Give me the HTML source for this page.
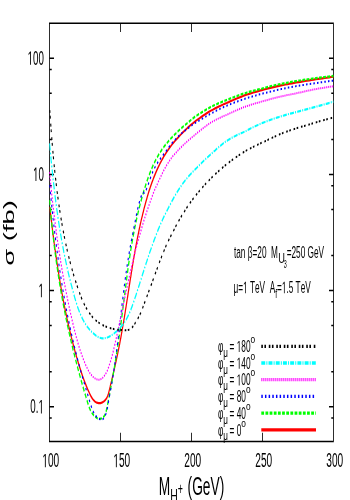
<!DOCTYPE html>
<html><head><meta charset="utf-8"><title>plot</title>
<style>html,body{margin:0;padding:0;background:#fff}svg{display:block;will-change:transform}text{font-family:"Liberation Sans",sans-serif;fill:#000;font-kerning:none}</style></head>
<body>
<svg width="350" height="500" viewBox="0 0 350 500">
<rect x="0" y="0" width="350" height="500" fill="#fff"/>
<g transform="scale(0.547,1)" fill="none">
<rect x="90.49" y="23.25" width="519.20" height="418.25" stroke="#000" stroke-width="1.5"/>
<path d="M220.29 23.25 v8.8 M220.29 441.50 v-8.8 M350.09 23.25 v8.8 M350.09 441.50 v-8.8 M479.89 23.25 v8.8 M479.89 441.50 v-8.8 M90.49 58.20 h8.2 M609.69 58.20 h-8.2 M90.49 174.40 h8.2 M609.69 174.40 h-8.2 M90.49 290.60 h8.2 M609.69 290.60 h-8.2 M90.49 406.80 h8.2 M609.69 406.80 h-8.2 M90.49 69.46 h4.1 M609.69 69.46 h-4.1 M90.49 93.18 h4.1 M609.69 93.18 h-4.1 M90.49 139.42 h4.1 M609.69 139.42 h-4.1 M90.49 185.66 h4.1 M609.69 185.66 h-4.1 M90.49 209.38 h4.1 M609.69 209.38 h-4.1 M90.49 255.62 h4.1 M609.69 255.62 h-4.1 M90.49 301.86 h4.1 M609.69 301.86 h-4.1 M90.49 325.58 h4.1 M609.69 325.58 h-4.1 M90.49 371.82 h4.1 M609.69 371.82 h-4.1 M90.49 418.06 h4.1 M609.69 418.06 h-4.1" stroke="#000" stroke-width="1.5"/>
<clipPath id="cp"><rect x="89.9452" y="23.25" width="520.293" height="418.25"/></clipPath>
<g clip-path="url(#cp)" stroke-linejoin="round">
<path d="M91.0 207.0 L91.4 209.2 L91.9 211.4 L92.4 213.5 L92.8 215.7 L93.3 217.9 L93.8 220.1 L94.3 222.2 L94.7 224.4 L95.2 226.6 L95.7 228.8 L96.2 231.0 L96.7 233.2 L97.2 235.4 L97.8 237.5 L98.3 239.7 L98.8 241.9 L99.3 244.1 L99.9 246.3 L100.4 248.5 L101.0 250.7 L101.6 252.9 L102.1 255.1 L102.7 257.3 L103.3 259.4 L103.9 261.6 L104.5 263.8 L105.1 266.0 L105.7 268.2 L106.3 270.4 L106.9 272.6 L107.6 274.8 L108.2 277.0 L108.9 279.2 L109.6 281.3 L110.2 283.5 L110.9 285.7 L111.6 287.9 L112.3 290.1 L113.0 292.3 L113.8 294.4 L114.5 296.6 L115.2 298.8 L116.0 301.0 L116.8 303.1 L117.5 305.3 L118.3 307.5 L119.1 309.6 L119.9 311.8 L120.8 314.0 L121.6 316.1 L122.4 318.3 L123.3 320.5 L124.2 322.6 L125.1 324.8 L126.0 326.9 L126.9 329.1 L127.8 331.2 L128.7 333.3 L129.7 335.5 L130.6 337.6 L131.6 339.7 L132.6 341.9 L133.6 344.0 L134.6 346.1 L135.7 348.2 L136.7 350.4 L137.8 352.5 L138.9 354.6 L139.9 356.7 L141.1 358.8 L142.2 360.9 L143.3 363.0 L144.5 365.1 L145.6 367.1 L146.8 369.2 L148.1 371.3 L149.3 373.4 L150.6 375.5 L151.9 377.6 L153.3 379.7 L154.8 381.8 L156.3 383.9 L157.8 386.0 L159.4 388.1 L161.1 390.3 L162.9 392.4 L164.7 394.6 L166.7 396.7 L168.9 398.6 L171.3 400.3 L174.0 401.7 L177.0 402.7 L180.3 403.2 L183.8 403.1 L187.1 402.4 L190.3 401.3 L193.0 399.7 L195.3 397.9 L196.9 395.9 L198.2 393.8 L199.2 391.6 L200.2 389.4 L201.2 387.2 L202.1 385.0 L203.1 382.8 L204.1 380.6 L205.0 378.4 L206.0 376.2 L206.9 374.1 L207.8 371.9 L208.7 369.7 L209.6 367.6 L210.5 365.4 L211.4 363.2 L212.3 361.1 L213.1 358.9 L214.0 356.7 L214.8 354.6 L215.6 352.4 L216.4 350.3 L217.2 348.1 L218.0 345.9 L218.8 343.8 L219.5 341.6 L220.3 339.4 L221.0 337.3 L221.7 335.1 L222.4 332.9 L223.1 330.8 L223.8 328.6 L224.5 326.4 L225.2 324.3 L225.9 322.1 L226.5 319.9 L227.2 317.8 L227.8 315.6 L228.5 313.4 L229.1 311.3 L229.7 309.1 L230.4 306.9 L231.0 304.8 L231.6 302.6 L232.2 300.4 L232.9 298.3 L233.5 296.1 L234.1 293.9 L234.7 291.8 L235.3 289.6 L235.9 287.4 L236.6 285.2 L237.2 283.1 L237.8 280.9 L238.4 278.7 L239.1 276.6 L239.7 274.4 L240.3 272.2 L241.0 270.1 L241.6 267.9 L242.3 265.7 L242.9 263.5 L243.6 261.4 L244.3 259.2 L244.9 257.0 L245.6 254.9 L246.3 252.7 L247.0 250.5 L247.8 248.4 L248.5 246.2 L249.2 244.0 L250.0 241.9 L250.7 239.7 L251.5 237.5 L252.3 235.4 L253.1 233.2 L253.9 231.0 L254.7 228.8 L255.6 226.7 L256.4 224.5 L257.3 222.4 L258.2 220.2 L259.1 218.1 L260.1 216.0 L261.0 213.8 L262.0 211.7 L262.9 209.6 L263.9 207.4 L265.0 205.3 L266.0 203.2 L267.1 201.0 L268.2 198.9 L269.3 196.8 L270.4 194.7 L271.6 192.5 L272.8 190.4 L274.1 188.3 L275.3 186.3 L276.7 184.2 L278.0 182.1 L279.4 180.1 L280.8 178.0 L282.3 176.0 L283.8 174.0 L285.3 172.0 L286.9 170.0 L288.6 168.0 L290.3 166.1 L292.0 164.1 L293.8 162.2 L295.7 160.3 L297.6 158.4 L299.5 156.5 L301.6 154.7 L303.6 152.9 L305.8 151.1 L308.0 149.3 L310.3 147.6 L312.6 145.8 L315.0 144.2 L317.5 142.5 L320.0 140.9 L322.6 139.3 L325.3 137.7 L328.0 136.0 L330.8 134.4 L333.6 132.8 L336.5 131.2 L339.4 129.7 L342.4 128.1 L345.5 126.6 L348.6 125.1 L351.7 123.7 L354.9 122.2 L358.1 120.8 L361.4 119.5 L364.7 118.2 L368.1 116.9 L371.4 115.6 L374.9 114.4 L378.3 113.1 L381.8 111.9 L385.3 110.7 L388.9 109.7 L392.4 108.6 L396.0 107.6 L399.6 106.6 L403.3 105.7 L406.9 104.8 L410.6 103.8 L414.3 103.0 L418.0 102.1 L421.7 101.1 L425.5 100.2 L429.2 99.3 L432.9 98.5 L436.7 97.6 L440.5 96.8 L444.3 96.0 L448.1 95.2 L451.9 94.5 L455.7 93.8 L459.5 93.2 L463.3 92.5 L467.2 91.9 L471.0 91.3 L474.9 90.7 L478.8 90.1 L482.7 89.5 L486.5 89.0 L490.4 88.4 L494.3 87.9 L498.3 87.4 L502.2 86.9 L506.1 86.4 L510.0 85.9 L514.0 85.4 L517.9 85.0 L521.9 84.5 L525.8 84.1 L529.8 83.7 L533.7 83.3 L537.7 82.9 L541.7 82.5 L545.7 82.1 L549.6 81.8 L553.6 81.4 L557.6 81.0 L561.6 80.6 L565.6 80.3 L569.6 79.9 L573.6 79.6 L577.6 79.2 L581.6 78.9 L585.6 78.6 L589.7 78.3 L593.7 78.0 L597.7 77.7 L601.7 77.3 L605.7 77.0 L609.7 76.7" stroke="#f00" stroke-width="2.2"/>
<path d="M90.6 200.0 L91.0 202.3 L91.3 204.7 L91.7 207.0 L92.1 209.3 L92.5 211.7 L92.9 214.0 L93.3 216.4 L93.7 218.7 L94.1 221.0 L94.6 223.4 L95.0 225.7 L95.5 228.0 L95.9 230.4 L96.4 232.7 L96.9 235.0 L97.4 237.4 L97.9 239.7 L98.4 242.0 L98.9 244.4 L99.4 246.7 L99.9 249.0 L100.5 251.3 L101.0 253.7 L101.6 256.0 L102.2 258.3 L102.7 260.6 L103.3 263.0 L103.9 265.3 L104.6 267.6 L105.2 269.9 L105.8 272.3 L106.4 274.6 L107.1 276.9 L107.8 279.2 L108.4 281.5 L109.1 283.8 L109.8 286.2 L110.5 288.5 L111.3 290.8 L112.0 293.1 L112.7 295.4 L113.5 297.7 L114.2 300.0 L115.0 302.3 L115.8 304.6 L116.6 307.0 L117.4 309.3 L118.3 311.6 L119.1 313.9 L119.9 316.2 L120.8 318.5 L121.7 320.8 L122.6 323.1 L123.4 325.4 L124.4 327.7 L125.3 330.0 L126.2 332.3 L127.1 334.6 L128.1 336.9 L129.1 339.1 L130.0 341.4 L131.0 343.7 L132.0 346.0 L133.0 348.3 L134.0 350.6 L135.0 352.8 L136.1 355.1 L137.1 357.4 L138.2 359.7 L139.3 361.9 L140.3 364.2 L141.4 366.5 L142.5 368.7 L143.6 371.0 L144.7 373.2 L145.9 375.5 L147.0 377.7 L148.1 380.0 L149.3 382.2 L150.5 384.5 L151.6 386.7 L152.8 388.9 L154.0 391.2 L155.2 393.5 L156.5 395.7 L157.7 398.0 L159.0 400.3 L160.2 402.6 L161.6 404.9 L163.0 407.2 L164.6 409.4 L166.5 411.5 L168.8 413.5 L171.5 415.4 L174.7 417.0 L178.3 418.3 L182.2 418.8 L186.0 418.3 L189.0 417.1 L191.2 415.5 L192.9 413.5 L194.1 411.3 L195.0 409.0 L195.9 406.6 L196.7 404.3 L197.6 401.9 L198.4 399.5 L199.3 397.2 L200.1 394.8 L200.9 392.5 L201.7 390.1 L202.5 387.8 L203.3 385.4 L204.1 383.1 L204.9 380.8 L205.6 378.4 L206.4 376.1 L207.1 373.8 L207.8 371.5 L208.6 369.1 L209.3 366.8 L210.0 364.5 L210.7 362.2 L211.3 359.8 L212.0 357.5 L212.7 355.2 L213.4 352.9 L214.0 350.6 L214.7 348.3 L215.3 346.0 L215.9 343.7 L216.6 341.3 L217.2 339.0 L217.8 336.7 L218.4 334.4 L219.0 332.1 L219.6 329.8 L220.1 327.5 L220.7 325.2 L221.3 322.9 L221.8 320.5 L222.4 318.2 L223.0 315.9 L223.5 313.6 L224.0 311.3 L224.6 309.0 L225.1 306.6 L225.6 304.3 L226.2 302.0 L226.7 299.7 L227.2 297.4 L227.8 295.0 L228.3 292.7 L228.8 290.4 L229.4 288.1 L229.9 285.8 L230.5 283.5 L231.0 281.1 L231.6 278.8 L232.1 276.5 L232.7 274.2 L233.3 271.9 L233.8 269.5 L234.4 267.2 L235.0 264.9 L235.6 262.6 L236.3 260.3 L236.9 257.9 L237.5 255.6 L238.2 253.3 L238.8 251.0 L239.5 248.7 L240.2 246.4 L240.9 244.1 L241.6 241.8 L242.4 239.4 L243.1 237.1 L243.9 234.8 L244.7 232.5 L245.5 230.2 L246.4 227.9 L247.2 225.6 L248.1 223.3 L249.0 221.0 L249.9 218.7 L250.8 216.4 L251.8 214.1 L252.8 211.8 L253.8 209.5 L254.8 207.2 L255.9 204.9 L256.9 202.6 L258.1 200.4 L259.2 198.1 L260.4 195.8 L261.6 193.5 L262.8 191.2 L264.1 189.0 L265.4 186.7 L266.7 184.4 L268.1 182.2 L269.5 179.9 L270.9 177.7 L272.4 175.5 L273.9 173.2 L275.5 171.0 L277.2 168.9 L278.8 166.7 L280.6 164.5 L282.4 162.5 L284.2 160.5 L286.1 158.5 L288.1 156.6 L290.1 154.7 L292.2 152.9 L294.4 151.0 L296.6 149.2 L298.9 147.5 L301.2 145.7 L303.7 144.0 L306.2 142.4 L308.8 140.7 L311.4 139.0 L314.2 137.4 L317.0 135.9 L319.9 134.3 L322.9 132.8 L325.9 131.1 L329.0 129.5 L332.2 127.9 L335.5 126.3 L338.8 124.8 L342.2 123.2 L345.6 121.6 L349.1 120.0 L352.6 118.4 L356.2 116.9 L359.8 115.5 L363.5 114.2 L367.2 112.9 L371.0 111.6 L374.7 110.3 L378.6 109.1 L382.4 107.9 L386.3 106.7 L390.1 105.7 L394.1 104.7 L398.0 103.7 L401.9 102.8 L405.9 101.9 L409.8 101.0 L413.8 100.1 L417.8 99.2 L421.8 98.3 L425.8 97.5 L429.8 96.6 L433.8 95.8 L437.9 95.0 L441.9 94.2 L446.0 93.5 L450.1 92.8 L454.1 92.1 L458.2 91.5 L462.3 90.9 L466.4 90.3 L470.5 89.7 L474.7 89.1 L478.8 88.6 L482.9 88.0 L487.1 87.4 L491.2 86.8 L495.4 86.2 L499.6 85.7 L503.7 85.1 L507.9 84.6 L512.1 84.1 L516.3 83.6 L520.5 83.2 L524.7 82.8 L528.9 82.3 L533.1 81.9 L537.4 81.5 L541.6 81.1 L545.8 80.7 L550.1 80.4 L554.3 80.0 L558.6 79.6 L562.8 79.3 L567.1 78.9 L571.3 78.6 L575.6 78.3 L579.8 78.0 L584.1 77.7 L588.4 77.4 L592.7 77.1 L596.9 76.8 L601.2 76.6 L605.5 76.3 L609.8 76.0" stroke="#0f0" stroke-width="2.3" stroke-dasharray="5.1 2.5"/>
<path d="M90.9 185.0 L91.3 187.4 L91.7 189.8 L92.1 192.1 L92.5 194.5 L92.9 196.9 L93.4 199.3 L93.8 201.7 L94.3 204.1 L94.7 206.4 L95.2 208.8 L95.6 211.2 L96.1 213.6 L96.6 216.0 L97.0 218.4 L97.5 220.7 L98.0 223.1 L98.5 225.5 L99.0 227.9 L99.5 230.3 L100.1 232.7 L100.6 235.1 L101.1 237.4 L101.7 239.8 L102.2 242.2 L102.8 244.6 L103.3 247.0 L103.9 249.4 L104.5 251.7 L105.1 254.1 L105.6 256.5 L106.3 258.9 L106.9 261.3 L107.5 263.6 L108.1 266.0 L108.8 268.4 L109.4 270.8 L110.1 273.1 L110.7 275.5 L111.4 277.9 L112.1 280.3 L112.8 282.6 L113.5 285.0 L114.2 287.4 L114.9 289.7 L115.7 292.1 L116.4 294.5 L117.2 296.8 L117.9 299.2 L118.7 301.6 L119.5 303.9 L120.3 306.3 L121.1 308.6 L122.0 311.0 L122.8 313.4 L123.6 315.7 L124.5 318.1 L125.4 320.4 L126.3 322.8 L127.2 325.1 L128.1 327.4 L129.0 329.8 L129.9 332.1 L130.9 334.5 L131.8 336.8 L132.8 339.1 L133.8 341.5 L134.8 343.8 L135.8 346.1 L136.9 348.5 L137.9 350.8 L139.0 353.1 L140.0 355.4 L141.1 357.7 L142.2 360.1 L143.3 362.4 L144.5 364.7 L145.6 367.0 L146.8 369.3 L147.9 371.6 L149.1 373.9 L150.3 376.2 L151.6 378.5 L152.8 380.8 L154.0 383.1 L155.3 385.4 L156.5 387.7 L157.8 390.0 L159.1 392.4 L160.4 394.7 L161.6 397.0 L162.9 399.4 L164.2 401.7 L165.5 404.1 L166.9 406.4 L168.3 408.7 L170.0 411.0 L171.9 413.1 L174.1 415.1 L176.8 416.9 L180.0 418.4 L183.5 419.5 L186.9 419.5 L189.8 418.3 L192.1 416.0 L193.9 413.5 L195.2 410.9 L196.2 408.5 L197.0 406.1 L197.7 403.8 L198.4 401.4 L199.2 399.1 L200.0 396.7 L200.7 394.4 L201.5 392.0 L202.3 389.7 L203.1 387.3 L203.8 385.0 L204.6 382.6 L205.3 380.3 L206.0 377.9 L206.7 375.5 L207.4 373.2 L208.1 370.8 L208.7 368.4 L209.4 366.0 L210.0 363.6 L210.6 361.3 L211.2 358.9 L211.8 356.5 L212.4 354.1 L212.9 351.7 L213.5 349.4 L214.0 347.0 L214.6 344.6 L215.1 342.2 L215.6 339.8 L216.2 337.4 L216.7 335.1 L217.2 332.7 L217.7 330.3 L218.2 327.9 L218.7 325.5 L219.2 323.2 L219.7 320.8 L220.2 318.4 L220.7 316.0 L221.2 313.6 L221.7 311.3 L222.2 308.9 L222.7 306.5 L223.2 304.1 L223.8 301.7 L224.3 299.4 L224.8 297.0 L225.3 294.6 L225.9 292.2 L226.4 289.8 L226.9 287.5 L227.5 285.1 L228.1 282.7 L228.6 280.3 L229.2 278.0 L229.8 275.6 L230.4 273.2 L231.1 270.8 L231.7 268.4 L232.3 266.1 L233.0 263.7 L233.7 261.3 L234.4 258.9 L235.1 256.6 L235.8 254.2 L236.5 251.8 L237.3 249.4 L238.0 247.1 L238.8 244.7 L239.6 242.3 L240.5 239.9 L241.3 237.6 L242.2 235.2 L243.0 232.9 L243.9 230.5 L244.7 228.2 L245.5 225.9 L246.3 223.7 L247.1 221.5 L247.9 219.2 L248.7 217.0 L249.5 214.6 L250.5 212.2 L251.5 209.6 L252.6 206.9 L253.9 204.0 L255.3 201.1 L256.7 198.4 L258.2 196.1 L259.6 194.2 L260.8 192.9 L262.0 192.5 L262.9 192.8 L263.9 193.0 L265.1 192.3 L266.5 191.0 L267.9 189.0 L269.5 186.7 L271.2 184.1 L272.8 181.4 L274.5 178.7 L276.2 176.1 L277.9 173.7 L279.6 171.5 L281.3 169.4 L283.2 167.4 L285.1 165.4 L287.3 163.5 L289.6 161.5 L292.0 159.6 L294.6 157.7 L297.2 155.8 L299.8 153.9 L302.5 152.0 L305.1 150.0 L307.7 148.0 L310.3 146.0 L313.0 144.2 L315.6 142.4 L318.4 140.7 L321.2 139.1 L324.1 137.5 L327.1 135.8 L330.3 134.2 L333.6 132.6 L337.1 131.1 L340.6 129.7 L344.3 128.0 L348.1 126.4 L351.9 124.8 L355.7 123.3 L359.5 122.1 L363.4 120.8 L367.2 119.5 L371.0 118.3 L374.9 117.0 L378.7 115.8 L382.6 114.5 L386.4 113.3 L390.3 112.2 L394.2 111.0 L398.1 110.0 L402.0 108.9 L406.0 107.9 L409.9 106.8 L413.9 105.9 L417.9 104.9 L421.9 104.0 L426.0 103.1 L430.1 102.2 L434.1 101.4 L438.2 100.6 L442.4 99.8 L446.5 99.0 L450.6 98.3 L454.8 97.5 L459.0 96.8 L463.2 96.1 L467.4 95.5 L471.6 94.8 L475.8 94.2 L480.1 93.6 L484.3 93.0 L488.6 92.4 L492.8 91.8 L497.1 91.2 L501.4 90.7 L505.7 90.1 L510.0 89.6 L514.3 89.1 L518.6 88.6 L522.9 88.1 L527.3 87.6 L531.6 87.2 L535.9 86.7 L540.3 86.3 L544.6 85.8 L548.9 85.4 L553.3 85.1 L557.6 84.7 L562.0 84.3 L566.3 84.0 L570.7 83.6 L575.0 83.3 L579.3 83.0 L583.7 82.6 L588.0 82.2 L592.3 81.9 L596.7 81.6 L601.0 81.2 L605.3 80.9 L609.6 80.6" stroke="#00f" stroke-width="2" stroke-dasharray="2.7 4"/>
<path d="M90.5 172.0 L90.9 174.1 L91.3 176.3 L91.7 178.4 L92.0 180.5 L92.4 182.6 L92.8 184.7 L93.2 186.9 L93.6 189.0 L94.0 191.1 L94.4 193.2 L94.8 195.4 L95.3 197.5 L95.7 199.6 L96.1 201.7 L96.6 203.9 L97.0 206.0 L97.5 208.1 L97.9 210.2 L98.4 212.3 L98.9 214.5 L99.3 216.6 L99.8 218.7 L100.3 220.8 L100.8 223.0 L101.3 225.1 L101.8 227.2 L102.3 229.3 L102.8 231.5 L103.3 233.6 L103.9 235.7 L104.4 237.8 L105.0 239.9 L105.5 242.1 L106.1 244.2 L106.6 246.3 L107.2 248.4 L107.8 250.5 L108.4 252.6 L109.0 254.8 L109.6 256.9 L110.2 259.0 L110.8 261.1 L111.5 263.2 L112.1 265.3 L112.7 267.4 L113.4 269.5 L114.1 271.7 L114.7 273.8 L115.4 275.9 L116.1 278.0 L116.8 280.1 L117.5 282.2 L118.2 284.3 L118.9 286.4 L119.6 288.5 L120.4 290.6 L121.1 292.7 L121.9 294.8 L122.7 296.9 L123.4 299.0 L124.2 301.1 L125.0 303.1 L125.8 305.2 L126.6 307.3 L127.4 309.4 L128.3 311.5 L129.1 313.6 L130.0 315.7 L130.8 317.7 L131.7 319.8 L132.6 321.9 L133.5 324.0 L134.4 326.0 L135.3 328.1 L136.2 330.2 L137.2 332.2 L138.1 334.3 L139.1 336.4 L140.1 338.4 L141.2 340.5 L142.2 342.5 L143.3 344.6 L144.4 346.6 L145.6 348.7 L146.8 350.7 L148.1 352.7 L149.4 354.8 L150.7 356.8 L152.1 358.8 L153.6 360.8 L155.1 362.8 L156.6 364.8 L158.3 366.9 L160.0 368.8 L161.8 370.8 L163.9 372.7 L166.1 374.4 L168.7 376.1 L171.6 377.6 L174.7 378.8 L177.9 379.5 L181.1 379.7 L184.2 379.2 L187.1 378.2 L189.7 376.7 L192.0 374.9 L194.0 373.1 L195.8 371.1 L197.3 369.0 L198.7 367.0 L200.0 364.8 L201.3 362.8 L202.4 360.7 L203.5 358.6 L204.6 356.5 L205.6 354.4 L206.6 352.3 L207.5 350.2 L208.4 348.2 L209.3 346.1 L210.2 344.0 L211.0 341.9 L211.9 339.9 L212.7 337.8 L213.5 335.7 L214.4 333.6 L215.2 331.5 L216.0 329.5 L216.8 327.4 L217.6 325.3 L218.4 323.2 L219.2 321.1 L220.0 319.1 L220.8 317.0 L221.6 314.9 L222.4 312.8 L223.2 310.7 L224.0 308.6 L224.8 306.6 L225.6 304.5 L226.4 302.4 L227.2 300.3 L228.0 298.2 L228.8 296.2 L229.6 294.1 L230.4 292.0 L231.2 289.9 L232.0 287.8 L232.8 285.8 L233.6 283.7 L234.4 281.6 L235.3 279.5 L236.1 277.5 L236.9 275.4 L237.8 273.3 L238.6 271.3 L239.5 269.2 L240.4 267.1 L241.2 265.1 L242.1 263.0 L243.0 260.9 L243.9 258.9 L244.8 256.8 L245.8 254.8 L246.7 252.7 L247.6 250.7 L248.6 248.6 L249.6 246.6 L250.6 244.5 L251.6 242.5 L252.6 240.5 L253.6 238.4 L254.6 236.4 L255.7 234.4 L256.8 232.3 L257.9 230.2 L259.0 228.1 L260.1 226.0 L261.2 224.0 L262.4 221.9 L263.5 219.8 L264.7 217.8 L265.9 215.7 L267.2 213.6 L268.4 211.6 L269.7 209.5 L271.0 207.4 L272.3 205.3 L273.6 203.3 L274.9 201.2 L276.3 199.1 L277.7 197.1 L279.1 195.0 L280.5 192.9 L282.0 190.9 L283.4 189.1 L284.9 187.2 L286.4 185.4 L288.0 183.6 L289.5 181.7 L291.1 179.9 L292.7 178.1 L294.3 176.1 L296.0 174.2 L297.7 172.3 L299.4 170.5 L301.2 168.6 L303.0 166.8 L304.9 165.0 L306.9 163.3 L308.8 161.6 L310.9 159.9 L313.0 158.3 L315.2 156.7 L317.5 155.2 L319.8 153.8 L322.3 152.3 L324.7 150.8 L327.2 149.4 L329.8 147.9 L332.4 146.5 L335.1 145.1 L337.8 143.7 L340.5 142.3 L343.3 140.9 L346.2 139.5 L349.1 138.2 L352.0 136.8 L355.0 135.5 L358.0 134.1 L361.1 132.7 L364.2 131.3 L367.3 129.9 L370.4 128.6 L373.6 127.2 L376.9 125.9 L380.1 124.6 L383.4 123.3 L386.7 122.1 L390.0 121.2 L393.4 120.2 L396.8 119.2 L400.2 118.3 L403.6 117.4 L407.1 116.5 L410.5 115.7 L414.0 114.9 L417.5 114.0 L421.1 113.1 L424.6 112.2 L428.2 111.3 L431.7 110.4 L435.3 109.6 L438.9 108.7 L442.6 107.9 L446.2 107.1 L449.9 106.4 L453.5 105.7 L457.2 105.1 L460.9 104.4 L464.6 103.8 L468.3 103.2 L472.1 102.6 L475.8 102.0 L479.5 101.4 L483.3 100.8 L487.1 100.2 L490.9 99.7 L494.6 99.1 L498.4 98.5 L502.2 98.0 L506.0 97.5 L509.9 97.0 L513.7 96.5 L517.5 96.0 L521.3 95.6 L525.2 95.1 L529.0 94.7 L532.8 94.3 L536.7 93.9 L540.5 93.5 L544.4 93.0 L548.2 92.5 L552.1 92.1 L555.9 91.6 L559.8 91.1 L563.6 90.6 L567.5 90.2 L571.3 89.7 L575.2 89.3 L579.0 88.9 L582.8 88.5 L586.7 88.2 L590.5 87.9 L594.3 87.5 L598.1 87.2 L602.0 86.8 L605.8 86.5 L609.6 86.2" stroke="#f0f" stroke-width="2" stroke-dasharray="1.95 1.706"/>
<path d="M90.6 143.4 L90.9 145.3 L91.2 147.2 L91.5 149.1 L91.9 151.0 L92.2 152.9 L92.5 154.8 L92.9 156.7 L93.2 158.5 L93.5 160.4 L93.9 162.3 L94.2 164.2 L94.6 166.1 L94.9 168.0 L95.3 169.8 L95.7 171.7 L96.0 173.6 L96.4 175.5 L96.8 177.3 L97.1 179.2 L97.5 181.1 L97.9 183.0 L98.3 184.8 L98.7 186.7 L99.1 188.6 L99.5 190.4 L99.9 192.3 L100.3 194.2 L100.7 196.0 L101.1 197.9 L101.6 199.8 L102.0 201.6 L102.5 203.5 L102.9 205.4 L103.4 207.2 L103.8 209.1 L104.3 210.9 L104.8 212.8 L105.3 214.6 L105.7 216.5 L106.2 218.4 L106.7 220.2 L107.3 222.1 L107.8 223.9 L108.3 225.8 L108.8 227.6 L109.4 229.5 L109.9 231.3 L110.5 233.2 L111.1 235.0 L111.7 236.9 L112.2 238.7 L112.8 240.6 L113.4 242.4 L114.1 244.3 L114.7 246.1 L115.3 248.0 L116.0 249.8 L116.6 251.6 L117.3 253.5 L118.0 255.3 L118.7 257.2 L119.3 259.0 L120.1 260.9 L120.8 262.7 L121.5 264.5 L122.2 266.4 L123.0 268.2 L123.8 270.1 L124.5 271.9 L125.3 273.7 L126.1 275.6 L126.9 277.4 L127.8 279.3 L128.6 281.1 L129.4 282.9 L130.3 284.8 L131.2 286.6 L132.1 288.5 L133.0 290.3 L133.9 292.1 L134.8 294.0 L135.7 295.8 L136.7 297.7 L137.7 299.5 L138.7 301.3 L139.7 303.1 L140.7 305.0 L141.8 306.8 L143.0 308.6 L144.2 310.3 L145.4 312.1 L146.7 313.8 L148.1 315.6 L149.5 317.2 L151.0 318.9 L152.5 320.5 L154.2 322.2 L155.9 323.7 L157.8 325.3 L159.7 326.8 L161.7 328.2 L163.9 329.6 L166.1 331.0 L168.5 332.3 L171.0 333.6 L173.6 334.8 L176.3 336.0 L179.2 336.9 L182.1 337.7 L185.2 338.2 L188.4 338.4 L191.6 338.2 L194.9 337.8 L198.2 337.0 L201.4 336.1 L204.6 335.0 L207.6 333.8 L210.5 332.5 L213.3 331.2 L215.9 329.9 L218.4 328.5 L220.7 327.1 L222.9 325.7 L225.0 324.3 L226.9 322.7 L228.8 321.2 L230.6 319.6 L232.2 318.0 L233.8 316.3 L235.3 314.7 L236.7 313.0 L238.0 311.2 L239.3 309.5 L240.6 307.7 L241.8 306.0 L242.9 304.2 L244.1 302.4 L245.2 300.6 L246.3 298.8 L247.4 297.0 L248.5 295.3 L249.5 293.5 L250.6 291.7 L251.6 289.9 L252.7 288.2 L253.7 286.4 L254.8 284.6 L255.8 282.8 L256.8 281.0 L257.9 279.3 L258.9 277.5 L259.9 275.7 L260.9 273.9 L262.0 272.2 L263.0 270.4 L264.0 268.6 L265.1 266.8 L266.1 265.0 L267.2 263.2 L268.3 261.5 L269.3 259.7 L270.4 257.9 L271.5 256.1 L272.6 254.3 L273.7 252.5 L274.9 250.7 L276.0 249.0 L277.1 247.2 L278.3 245.4 L279.4 243.6 L280.6 241.9 L281.8 240.1 L283.0 238.3 L284.3 236.6 L285.5 234.8 L286.7 233.0 L288.0 231.3 L289.3 229.5 L290.6 227.8 L291.9 226.1 L293.3 224.4 L294.6 222.7 L296.0 221.1 L297.4 219.4 L298.8 217.8 L300.3 216.1 L301.7 214.5 L303.2 212.9 L304.7 211.3 L306.2 209.7 L307.8 208.0 L309.4 206.3 L311.0 204.7 L312.6 203.0 L314.2 201.3 L315.9 199.6 L317.6 197.9 L319.3 196.3 L321.1 194.6 L322.9 193.0 L324.7 191.3 L326.6 189.7 L328.5 188.1 L330.4 186.5 L332.4 185.0 L334.4 183.4 L336.5 181.9 L338.6 180.4 L340.8 178.9 L343.0 177.4 L345.3 176.0 L347.6 174.6 L350.0 173.2 L352.5 171.8 L355.0 170.4 L357.5 169.0 L360.1 167.6 L362.6 166.2 L365.2 164.8 L367.7 163.4 L370.3 162.0 L372.8 160.6 L375.4 159.2 L377.9 157.9 L380.5 156.7 L383.0 155.4 L385.6 154.1 L388.1 152.9 L390.7 151.6 L393.3 150.4 L395.8 149.1 L398.4 147.9 L401.0 146.7 L403.7 145.4 L406.3 144.3 L409.0 143.1 L411.6 141.9 L414.3 141.0 L417.1 140.0 L419.8 139.1 L422.6 138.2 L425.4 137.3 L428.3 136.5 L431.1 135.7 L434.0 134.9 L437.0 134.1 L439.9 133.4 L442.9 132.7 L445.9 132.0 L448.9 131.3 L451.9 130.3 L455.0 129.4 L458.0 128.5 L461.1 127.7 L464.3 126.8 L467.4 126.0 L470.6 125.2 L473.7 124.4 L476.9 123.6 L480.1 122.9 L483.3 122.2 L486.6 121.5 L489.8 120.8 L493.1 120.1 L496.3 119.5 L499.6 118.9 L502.9 118.3 L506.2 117.6 L509.5 117.1 L512.8 116.5 L516.2 115.9 L519.5 115.4 L522.8 114.8 L526.2 114.3 L529.5 113.8 L532.9 113.3 L536.3 112.8 L539.6 112.3 L543.0 111.8 L546.3 111.3 L549.7 110.8 L553.1 110.3 L556.4 109.8 L559.8 109.3 L563.2 108.8 L566.5 108.3 L569.9 107.8 L573.2 107.3 L576.6 106.8 L579.9 106.3 L583.2 105.8 L586.6 105.3 L589.9 104.8 L593.2 104.3 L596.5 103.8 L599.8 103.3 L603.1 102.8 L606.3 102.2 L609.6 101.7" stroke="#0ff" stroke-width="2.2" stroke-dasharray="7.2 2.1 1.8 2.1"/>
<path d="M90.9 110.1 L91.2 111.9 L91.4 113.8 L91.6 115.7 L91.9 117.5 L92.1 119.4 L92.4 121.3 L92.6 123.2 L92.9 125.1 L93.1 126.9 L93.4 128.8 L93.6 130.7 L93.9 132.6 L94.1 134.5 L94.4 136.4 L94.7 138.3 L94.9 140.2 L95.2 142.0 L95.5 143.9 L95.8 145.8 L96.1 147.7 L96.4 149.6 L96.7 151.5 L97.0 153.4 L97.3 155.3 L97.6 157.2 L97.9 159.1 L98.3 161.0 L98.6 162.9 L98.9 164.8 L99.3 166.7 L99.6 168.6 L100.0 170.4 L100.3 172.3 L100.7 174.2 L101.1 176.1 L101.5 178.0 L101.9 179.9 L102.3 181.8 L102.7 183.7 L103.1 185.6 L103.5 187.5 L103.9 189.4 L104.3 191.3 L104.8 193.1 L105.2 195.0 L105.7 196.9 L106.2 198.8 L106.6 200.7 L107.1 202.6 L107.6 204.4 L108.1 206.3 L108.6 208.2 L109.1 210.1 L109.7 211.9 L110.2 213.8 L110.7 215.7 L111.3 217.6 L111.9 219.4 L112.4 221.3 L113.0 223.1 L113.6 225.0 L114.2 226.9 L114.8 228.7 L115.5 230.6 L116.1 232.4 L116.8 234.3 L117.4 236.1 L118.1 238.0 L118.8 239.8 L119.5 241.7 L120.2 243.5 L120.9 245.3 L121.6 247.2 L122.4 249.0 L123.1 250.8 L123.9 252.7 L124.7 254.5 L125.5 256.3 L126.3 258.1 L127.1 260.0 L128.0 261.8 L128.9 263.6 L129.7 265.4 L130.6 267.2 L131.6 269.1 L132.5 270.9 L133.5 272.7 L134.4 274.5 L135.4 276.4 L136.4 278.2 L137.5 280.0 L138.5 281.8 L139.6 283.7 L140.7 285.5 L141.9 287.3 L143.0 289.1 L144.2 291.0 L145.4 292.8 L146.6 294.6 L147.9 296.5 L149.2 298.3 L150.6 300.0 L152.0 301.8 L153.5 303.6 L155.0 305.3 L156.6 307.0 L158.3 308.6 L160.1 310.2 L161.9 311.8 L163.9 313.4 L165.9 314.8 L168.0 316.3 L170.3 317.7 L172.6 319.0 L175.1 320.3 L177.7 321.5 L180.4 322.6 L183.2 323.7 L186.2 324.6 L189.2 325.5 L192.4 326.4 L195.7 327.1 L199.0 327.8 L202.4 328.3 L205.8 328.8 L209.2 329.2 L212.6 329.5 L216.0 329.8 L219.4 330.0 L222.8 330.1 L226.1 330.1 L229.3 330.3 L232.4 330.3 L235.5 329.7 L238.4 329.0 L241.2 327.6 L243.8 326.0 L246.3 323.9 L248.6 321.7 L250.7 319.8 L252.6 318.0 L254.3 316.1 L255.9 314.4 L257.3 312.8 L258.6 311.0 L259.9 309.3 L261.1 307.5 L262.2 305.7 L263.4 304.0 L264.6 302.3 L265.8 300.6 L266.9 299.0 L268.1 297.2 L269.2 295.5 L270.4 293.8 L271.5 292.1 L272.7 290.4 L273.8 288.8 L275.0 287.0 L276.1 285.3 L277.3 283.6 L278.4 281.9 L279.6 280.1 L280.7 278.4 L281.9 276.7 L283.0 274.9 L284.2 273.2 L285.3 271.5 L286.5 269.7 L287.7 268.0 L288.8 266.2 L290.0 264.5 L291.2 262.7 L292.4 261.0 L293.7 259.2 L294.9 257.5 L296.1 255.7 L297.4 254.0 L298.7 252.2 L300.0 250.5 L301.3 248.7 L302.6 247.1 L303.9 245.4 L305.3 243.8 L306.7 242.2 L308.1 240.5 L309.5 238.9 L311.0 237.3 L312.5 235.7 L314.0 234.1 L315.5 232.6 L317.1 230.9 L318.7 229.2 L320.3 227.5 L321.9 225.7 L323.6 224.0 L325.3 222.3 L327.1 220.6 L328.8 219.0 L330.6 217.3 L332.4 215.6 L334.2 214.0 L336.1 212.3 L338.0 210.7 L339.9 209.0 L341.8 207.4 L343.8 205.8 L345.8 204.2 L347.8 202.6 L349.8 201.1 L351.9 199.6 L354.0 198.1 L356.1 196.6 L358.2 195.1 L360.4 193.7 L362.6 192.2 L364.8 190.8 L367.0 189.3 L369.3 187.9 L371.6 186.5 L373.9 185.1 L376.2 183.7 L378.6 182.4 L381.0 181.0 L383.4 179.6 L385.8 178.3 L388.3 176.9 L390.7 175.6 L393.2 174.3 L395.8 173.0 L398.3 171.7 L400.9 170.5 L403.5 169.2 L406.1 168.0 L408.7 166.8 L411.4 165.5 L414.1 164.4 L416.8 163.2 L419.5 162.0 L422.2 160.9 L425.0 159.8 L427.8 158.6 L430.6 157.5 L433.5 156.5 L436.3 155.4 L439.2 154.4 L442.1 153.3 L445.0 152.3 L447.9 151.3 L450.9 150.4 L453.9 149.5 L456.9 148.6 L459.9 147.7 L462.9 146.9 L466.0 146.0 L469.0 145.2 L472.1 144.4 L475.2 143.6 L478.3 142.8 L481.5 142.0 L484.6 141.3 L487.8 140.4 L490.9 139.5 L494.1 138.7 L497.3 137.9 L500.5 137.0 L503.7 136.2 L507.0 135.4 L510.2 134.6 L513.4 133.9 L516.7 133.1 L520.0 132.4 L523.2 131.7 L526.5 131.1 L529.8 130.4 L533.1 129.8 L536.4 129.2 L539.7 128.7 L543.0 128.1 L546.4 127.5 L549.7 126.9 L553.0 126.4 L556.3 125.9 L559.7 125.3 L563.0 124.8 L566.3 124.3 L569.7 123.7 L573.0 123.2 L576.3 122.6 L579.7 122.1 L583.0 121.5 L586.4 121.0 L589.7 120.5 L593.0 119.9 L596.4 119.4 L599.7 118.9 L603.0 118.4 L606.3 117.9 L609.7 117.4" stroke="#000" stroke-width="2" stroke-dasharray="2.9 2.8 2.9 5.1"/>
</g>
<path d="M477.7 346.3 H577.7" stroke="#000" stroke-width="3.2" stroke-dasharray="2.9 2.8 2.9 5.1"/>
<path d="M477.7 363.0 H577.7" stroke="#0ff" stroke-width="3.3" stroke-dasharray="7.2 2.1 1.8 2.1"/>
<path d="M477.7 379.7 H577.7" stroke="#f0f" stroke-width="3.2" stroke-dasharray="1.95 1.706"/>
<path d="M477.7 396.4 H577.7" stroke="#00f" stroke-width="3.2" stroke-dasharray="2.7 4"/>
<path d="M477.7 413.1 H577.7" stroke="#0f0" stroke-width="3.2" stroke-dasharray="5.1 2.5"/>
<path d="M477.7 429.8 H577.7" stroke="#f00" stroke-width="3.2"/>
</g>
<g transform="translate(43.90 64.80) scale(0.5 1)">
<text xml:space="preserve" transform="translate(-32.53 0.00)" font-size="19.5"> 00</text>
<path transform="translate(-32.53 0.00) translate(0.00 0) scale(0.00952 -0.00952)" d="M515 0V1237L197 1010V1180L530 1409H696V0Z"/>
</g>
<g transform="translate(43.90 181.00) scale(0.5 1)">
<text xml:space="preserve" transform="translate(-21.69 0.00)" font-size="19.5"> 0</text>
<path transform="translate(-21.69 0.00) translate(0.00 0) scale(0.00952 -0.00952)" d="M515 0V1237L197 1010V1180L530 1409H696V0Z"/>
</g>
<g transform="translate(43.90 297.20) scale(0.5 1)">
<path transform="translate(-10.84 0.00) translate(0.00 0) scale(0.00952 -0.00952)" d="M515 0V1237L197 1010V1180L530 1409H696V0Z"/>
</g>
<g transform="translate(43.90 413.40) scale(0.5 1)">
<text xml:space="preserve" transform="translate(-27.11 0.00)" font-size="19.5">0. </text>
<path transform="translate(-27.11 0.00) translate(16.26 0) scale(0.00952 -0.00952)" d="M515 0V1237L197 1010V1180L530 1409H696V0Z"/>
</g>
<g transform="translate(50.80 467.30) scale(0.52 1)">
<text xml:space="preserve" transform="translate(-16.27 0.00)" font-size="19.5"> 00</text>
<path transform="translate(-16.27 0.00) translate(0.00 0) scale(0.00952 -0.00952)" d="M515 0V1237L197 1010V1180L530 1409H696V0Z"/>
</g>
<g transform="translate(121.80 467.30) scale(0.52 1)">
<text xml:space="preserve" transform="translate(-16.27 0.00)" font-size="19.5"> 50</text>
<path transform="translate(-16.27 0.00) translate(0.00 0) scale(0.00952 -0.00952)" d="M515 0V1237L197 1010V1180L530 1409H696V0Z"/>
</g>
<g transform="translate(192.80 467.30) scale(0.52 1)">
<text xml:space="preserve" transform="translate(-16.27 0.00)" font-size="19.5">200</text>
</g>
<g transform="translate(263.80 467.30) scale(0.52 1)">
<text xml:space="preserve" transform="translate(-16.27 0.00)" font-size="19.5">250</text>
</g>
<g transform="translate(334.80 467.30) scale(0.52 1)">
<text xml:space="preserve" transform="translate(-16.27 0.00)" font-size="19.5">300</text>
</g>
<g transform="translate(158.80 495.00) scale(0.55 1)">
<text xml:space="preserve" transform="translate(0.00 0.00)" font-size="25">M</text>
<text xml:space="preserve" transform="translate(20.83 6.80)" font-size="19">H</text>
<text xml:space="preserve" transform="translate(34.55 -0.60)" font-size="16">+</text>
<text xml:space="preserve" transform="translate(45.39 -0.00)" font-size="25"> (GeV)</text>
</g>
<text transform="translate(14.2 265.7) rotate(-90) scale(1 0.535)" font-size="27.4">σ (fb)</text>
<g transform="translate(234.00 258.00) scale(0.5 1)">
<text xml:space="preserve" transform="translate(0.00 0.00)" font-size="16.5">tan β=20  M</text>
<text xml:space="preserve" transform="translate(88.51 4.80) scale(1.3 1)" font-size="14.2">U</text>
<text xml:space="preserve" transform="translate(99.25 9.70)" font-size="10.8">3</text>
<text xml:space="preserve" transform="translate(105.45 0.00)" font-size="16.5">=250 GeV</text>
</g>
<g transform="translate(233.50 293.20) scale(0.5 1)">
<text xml:space="preserve" transform="translate(0.00 0.00)" font-size="16.5">μ=  TeV  A</text>
<path transform="translate(0.00 0.00) translate(19.14 0) scale(0.00806 -0.00806)" d="M515 0V1237L197 1010V1180L530 1409H696V0Z"/>
<text xml:space="preserve" transform="translate(83.34 4.60)" font-size="13.5">f</text>
<text xml:space="preserve" transform="translate(87.09 0.00)" font-size="16.5">= .5 TeV</text>
<path transform="translate(87.09 0.00) translate(9.64 0) scale(0.00806 -0.00806)" d="M515 0V1237L197 1010V1180L530 1409H696V0Z"/>
</g>
<g transform="translate(217.90 352.00) scale(0.52 1)">
<text xml:space="preserve" transform="translate(0.00 0.00)" font-size="16">φ</text>
<text xml:space="preserve" transform="translate(10.38 4.80) scale(1.2 1)" font-size="13">μ</text>
<text xml:space="preserve" transform="translate(17.96 0.00)" font-size="16"> =  80</text>
<path transform="translate(17.96 0.00) translate(18.23 0) scale(0.00781 -0.00781)" d="M515 0V1237L197 1010V1180L530 1409H696V0Z"/>
<text xml:space="preserve" transform="translate(62.89 -9.00) scale(1.5 1)" font-size="10.7">o</text>
</g>
<g transform="translate(217.90 368.70) scale(0.52 1)">
<text xml:space="preserve" transform="translate(0.00 0.00)" font-size="16">φ</text>
<text xml:space="preserve" transform="translate(10.38 4.80) scale(1.2 1)" font-size="13">μ</text>
<text xml:space="preserve" transform="translate(17.96 0.00)" font-size="16"> =  40</text>
<path transform="translate(17.96 0.00) translate(18.23 0) scale(0.00781 -0.00781)" d="M515 0V1237L197 1010V1180L530 1409H696V0Z"/>
<text xml:space="preserve" transform="translate(62.89 -9.00) scale(1.5 1)" font-size="10.7">o</text>
</g>
<g transform="translate(217.90 385.40) scale(0.52 1)">
<text xml:space="preserve" transform="translate(0.00 0.00)" font-size="16">φ</text>
<text xml:space="preserve" transform="translate(10.38 4.80) scale(1.2 1)" font-size="13">μ</text>
<text xml:space="preserve" transform="translate(17.96 0.00)" font-size="16"> =  00</text>
<path transform="translate(17.96 0.00) translate(18.23 0) scale(0.00781 -0.00781)" d="M515 0V1237L197 1010V1180L530 1409H696V0Z"/>
<text xml:space="preserve" transform="translate(62.89 -9.00) scale(1.5 1)" font-size="10.7">o</text>
</g>
<g transform="translate(217.90 402.10) scale(0.52 1)">
<text xml:space="preserve" transform="translate(0.00 0.00)" font-size="16">φ</text>
<text xml:space="preserve" transform="translate(10.38 4.80) scale(1.2 1)" font-size="13">μ</text>
<text xml:space="preserve" transform="translate(17.96 0.00)" font-size="16"> = 80</text>
<text xml:space="preserve" transform="translate(53.99 -9.00) scale(1.5 1)" font-size="10.7">o</text>
</g>
<g transform="translate(217.90 418.80) scale(0.52 1)">
<text xml:space="preserve" transform="translate(0.00 0.00)" font-size="16">φ</text>
<text xml:space="preserve" transform="translate(10.38 4.80) scale(1.2 1)" font-size="13">μ</text>
<text xml:space="preserve" transform="translate(17.96 0.00)" font-size="16"> = 40</text>
<text xml:space="preserve" transform="translate(53.99 -9.00) scale(1.5 1)" font-size="10.7">o</text>
</g>
<g transform="translate(217.90 435.50) scale(0.52 1)">
<text xml:space="preserve" transform="translate(0.00 0.00)" font-size="16">φ</text>
<text xml:space="preserve" transform="translate(10.38 4.80) scale(1.2 1)" font-size="13">μ</text>
<text xml:space="preserve" transform="translate(17.96 0.00)" font-size="16"> = 0</text>
<text xml:space="preserve" transform="translate(45.10 -9.00) scale(1.5 1)" font-size="10.7">o</text>
</g>
</svg></body></html>
